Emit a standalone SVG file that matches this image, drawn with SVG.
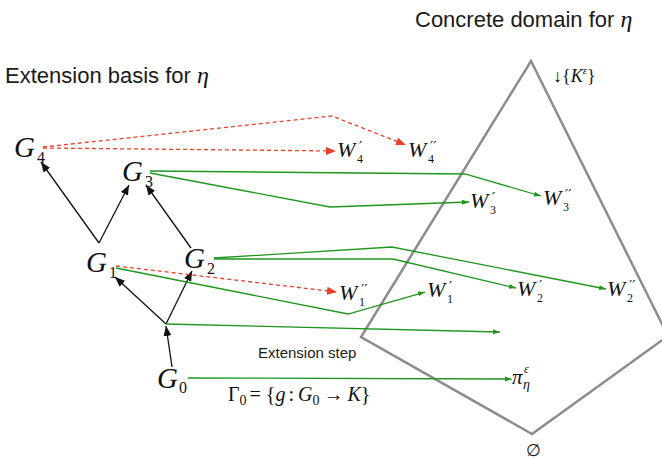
<svg xmlns="http://www.w3.org/2000/svg" width="662" height="460" viewBox="0 0 662 460">
<style>
.sans{font-family:"Liberation Sans",Arial,sans-serif;fill:#1a1a1a}
.m{font-family:"Liberation Serif","Times New Roman",serif;font-style:italic;fill:#111}
.r{font-family:"Liberation Serif","Times New Roman",serif;font-style:normal;fill:#111}
.g{font-size:29px}
.w{font-size:22px}
.pr{font-family:"DejaVu Serif",serif;font-size:14px;fill:#111}
.sub{font-family:"Liberation Serif","Times New Roman",serif;font-size:16px;fill:#111}
.ws{font-family:"Liberation Serif","Times New Roman",serif;font-size:12px;fill:#111}
.blk{stroke:#111;stroke-width:1.3;fill:none}
.grn{stroke:#1e961e;stroke-width:1.3;fill:none}
.red{stroke:#e8402a;stroke-width:1.3;fill:none;stroke-dasharray:4 3}
.kite{stroke:#8c8c8c;stroke-width:2.5;fill:none;stroke-linejoin:miter}
</style>
<defs>
<marker id="ab" markerUnits="userSpaceOnUse" markerWidth="12" markerHeight="10" refX="10" refY="5" orient="auto"><path d="M0,1 L10,5 L0,9 Z" fill="#111"/></marker>
<marker id="ag" markerUnits="userSpaceOnUse" markerWidth="8" markerHeight="6" refX="7" refY="3" orient="auto"><path d="M0,0.5 L7,3 L0,5.5 Z" fill="#1e961e"/></marker>
<marker id="ar" markerUnits="userSpaceOnUse" markerWidth="12" markerHeight="10" refX="10" refY="5" orient="auto"><path d="M0,1 L10,5 L0,9 Z" fill="#e8402a"/></marker>
</defs>

<g id="domain">
<polygon class="kite" points="531,61 668,336 532,434 361,337"/>
<text class="sans" x="415" y="27" font-size="22">Concrete domain for <tspan class="m" font-size="24">η</tspan></text>
<text class="r" x="553" y="82" font-size="18">↓{<tspan class="m">K</tspan><tspan class="m" font-size="11" dy="-8">ε</tspan><tspan dy="8">}</tspan></text>
<text class="r" x="526" y="456" font-size="17">∅</text>
</g>

<g id="title-basis"><text class="sans" x="5" y="83" font-size="22">Extension basis for <tspan class="m" font-size="24">η</tspan></text></g>

<g id="connectors">
<polyline class="blk" points="99,243 41,162" marker-end="url(#ab)"/>
<polyline class="blk" points="99,243 129,185" marker-end="url(#ab)"/>
<polyline class="blk" points="191,248 146,185" marker-end="url(#ab)"/>
<polyline class="blk" points="166,324 115,277" marker-end="url(#ab)"/>
<polyline class="blk" points="166,324 192,271" marker-end="url(#ab)"/>
<polyline class="blk" points="172,367 166,326" marker-end="url(#ab)"/>

<polyline class="grn" points="166,324 500,332" marker-end="url(#ag)"/>
<polyline class="grn" points="188,378 512,379" marker-end="url(#ag)"/>
<polyline class="grn" points="116,268 348,314 425,292" marker-end="url(#ag)"/>
<polyline class="grn" points="214,259 393,259 516,288" marker-end="url(#ag)"/>
<polyline class="grn" points="214,258 392,247 606,289" marker-end="url(#ag)"/>
<polyline class="grn" points="150,171 465,174 541,196" marker-end="url(#ag)"/>
<polyline class="grn" points="150,173 330,207 469,202" marker-end="url(#ag)"/>

<polyline class="red" points="43,148 336,151" marker-end="url(#ar)"/>
<polyline class="red" points="43,147 332,116 406,145" marker-end="url(#ar)"/>
<polyline class="red" points="116,266 337,292" marker-end="url(#ar)"/>
</g>

<g id="G4"><text class="m g" x="14" y="157">G</text><text class="sub" x="37" y="163">4</text></g>
<g id="G3"><text class="m g" x="122" y="181">G</text><text class="sub" x="145" y="187">3</text></g>
<g id="G1"><text class="m g" x="86" y="272">G</text><text class="sub" x="109" y="278">1</text></g>
<g id="G2"><text class="m g" x="184" y="268">G</text><text class="sub" x="207" y="274">2</text></g>
<g id="G0"><text class="m g" x="157" y="388">G</text><text class="sub" x="179" y="393">0</text></g>

<g id="W4p"><text class="m w" x="337" y="157">W</text><text class="pr" x="359" y="152">′</text><text class="ws" x="357" y="163">4</text></g>
<g id="W4pp"><text class="m w" x="408" y="157">W</text><text class="pr" x="430" y="152">′′</text><text class="ws" x="428" y="163">4</text></g>
<g id="W3p"><text class="m w" x="470" y="208">W</text><text class="pr" x="492" y="203">′</text><text class="ws" x="490" y="214">3</text></g>
<g id="W3pp"><text class="m w" x="543" y="205">W</text><text class="pr" x="565" y="200">′′</text><text class="ws" x="563" y="211">3</text></g>
<g id="W1pp"><text class="m w" x="339" y="300">W</text><text class="pr" x="361" y="295">′′</text><text class="ws" x="359" y="306">1</text></g>
<g id="W1p"><text class="m w" x="427" y="297">W</text><text class="pr" x="449" y="292">′</text><text class="ws" x="447" y="303">1</text></g>
<g id="W2p"><text class="m w" x="517" y="296">W</text><text class="pr" x="539" y="291">′</text><text class="ws" x="537" y="302">2</text></g>
<g id="W2pp"><text class="m w" x="607" y="296">W</text><text class="pr" x="629" y="291">′′</text><text class="ws" x="627" y="302">2</text></g>
<g id="pi"><text class="m" x="512" y="384" font-size="21">π</text><text class="m" x="524" y="373" font-size="12">ε</text><text class="m" x="523" y="389" font-size="14">η</text></g>

<g id="ext-step"><text class="sans" x="258" y="358" font-size="15">Extension step</text></g>
<g id="gamma"><text class="r" x="228" y="401" font-size="20">Γ<tspan font-size="14" dy="4">0</tspan><tspan dy="-4" dx="3">= {</tspan><tspan class="m">g</tspan><tspan dx="3">:</tspan><tspan class="m" dx="4">G</tspan><tspan font-size="14" dy="4">0</tspan><tspan dy="-4" dx="4">→</tspan><tspan class="m" dx="4">K</tspan>}</text></g>
</svg>
